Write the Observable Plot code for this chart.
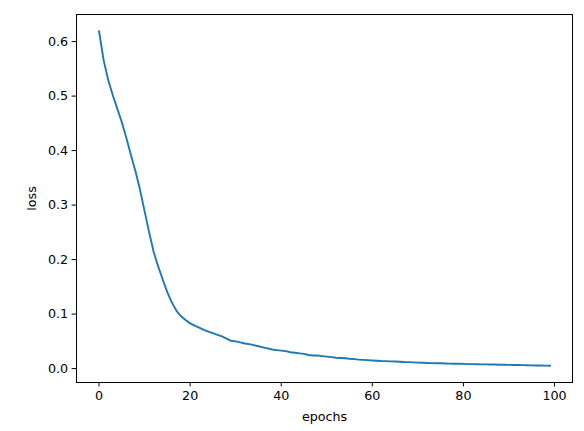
<!DOCTYPE html>
<html>
<head>
<meta charset="utf-8">
<script src="https://cdn.jsdelivr.net/npm/d3@7"></script>
<script src="https://cdn.jsdelivr.net/npm/@observablehq/plot@0.6"></script>
<style>
  html, body { margin: 0; padding: 0; background: #fff; }
  #chart svg { display: block; }
</style>
</head>
<body>
<div id="chart"></div>
<script>
const lossValues = [
  0.619, 0.566, 0.530, 0.502, 0.477, 0.452, 0.423, 0.392, 0.362, 0.328,
  0.289, 0.250, 0.214, 0.187, 0.163, 0.140, 0.121, 0.106, 0.096, 0.089,
  0.083, 0.079, 0.075, 0.071, 0.068, 0.065, 0.062, 0.059, 0.055, 0.051,
  0.050, 0.048, 0.046, 0.045, 0.043, 0.041, 0.039, 0.037, 0.035, 0.034,
  0.033, 0.032, 0.030, 0.029, 0.028, 0.027, 0.025, 0.024, 0.024, 0.023,
  0.022, 0.021, 0.020, 0.0195, 0.019, 0.018, 0.0175, 0.0165, 0.016, 0.0155,
  0.015, 0.0145, 0.014, 0.0138, 0.0133, 0.013, 0.0125, 0.012, 0.0118, 0.0115,
  0.011, 0.0108, 0.0104, 0.0101, 0.0099, 0.0097, 0.0094, 0.0091, 0.009, 0.0088,
  0.0087, 0.0083, 0.0082, 0.008, 0.0078, 0.0077, 0.0075, 0.0074, 0.0072, 0.007,
  0.0069, 0.0067, 0.0066, 0.0064, 0.0062, 0.006, 0.0058, 0.0056, 0.0054, 0.0052
];
const epochs = lossValues.map((_, i) => i);
const xTicks = [0, 20, 40, 60, 80, 100];
const yTicks = [0.0, 0.1, 0.2, 0.3, 0.4, 0.5, 0.6];
const xLabel = "epochs";
const yLabel = "loss";

const data = epochs.map((e, i) => ({epoch: e, loss: lossValues[i]}));
const xMin = d3.min(epochs), xMax = d3.max(epochs);
const yMin = d3.min(lossValues), yMax = d3.max(lossValues);
const xPad = (xMax - xMin) * 0.05, yPad = (yMax - yMin) * 0.05;

const chart = Plot.plot({
  width: 584,
  height: 431,
  marginLeft: 76,
  marginRight: 12,
  marginTop: 14,
  marginBottom: 49,
  style: {fontFamily: "'DejaVu Sans', sans-serif", fontSize: "12.7px", color: "#000", background: "#fff"},
  x: {domain: [xMin - xPad, xMax + xPad]},
  y: {domain: [yMin - yPad, yMax + yPad]},
  marks: [
    Plot.line(data, {x: "epoch", y: "loss", stroke: "#1f77b4", strokeWidth: 1.9, strokeLinejoin: "round", strokeLinecap: "square"}),
    Plot.frame({stroke: "#000", strokeWidth: 1}),
    Plot.axisX({ticks: xTicks, tickSize: 4.4, tickPadding: 4, tickFormat: d3.format("d"),
      label: xLabel, labelAnchor: "center", labelArrow: "none", labelOffset: 38, stroke: "#000", strokeWidth: 1}),
    Plot.axisY({ticks: yTicks, tickSize: 4.4, tickPadding: 4, tickFormat: d3.format(".1f"),
      label: yLabel, labelAnchor: "center", labelArrow: "none", labelOffset: 50, stroke: "#000", strokeWidth: 1})
  ]
});
document.getElementById("chart").appendChild(chart);
</script>
</body>
</html>
